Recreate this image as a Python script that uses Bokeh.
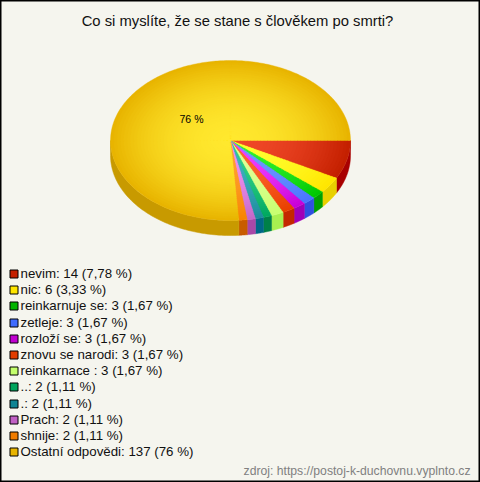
import numpy as np
from bokeh.plotting import figure
from bokeh.models import Range1d
from bokeh.core.properties import value
from bokeh.embed import file_html
from bokeh.resources import INLINE

TITLE = "Co si myslíte, že se stane s člověkem po smrti?"
SOURCE = "zdroj: https://postoj-k-duchovnu.vyplnto.cz"
categories = ["nevim", "nic", "reinkarnuje se", "zetleje", "rozloží se", "znovu se narodi",
              "reinkarnace ", "..", ".", "Prach", "shnije", "Ostatní odpovědi"]
counts = [14, 6, 3, 3, 3, 3, 3, 2, 2, 2, 2, 137]
percents = ["7,78", "3,33", "1,67", "1,67", "1,67", "1,67", "1,67", "1,11", "1,11", "1,11", "1,11", "76"]
swatch_colors = ["#c42000", "#ffe600", "#00b400", "#3f6cff", "#c000d0", "#e23c00",
                 "#c4ff6c", "#00a45c", "#108494", "#c060c4", "#f07c00", "#e8b400"]
rim_colors = ["#c42000", "#ffe600", "#00c800", "#4a74ff", "#c800d8", "#e84000",
              "#c8ff70", "#00a860", "#1c8c9c", "#c468c8", "#f88400", "#e8b400"]
center_colors = ["#f04828", "#ffff30", "#30f030", "#7098ff", "#f040ff", "#ff6430",
                 "#e0ff98", "#30d088", "#40b0c0", "#f090f0", "#ffa030", "#ffe82e"]
side_colors = ["#a80000", "#e8d000", "#00a000", "#3050e0", "#a000b8", "#c42800",
               "#a8f050", "#008048", "#006888", "#a848a8", "#c85c00", "#c89a00"]

W, H = 480, 482
CX, CY, RX, RY, DEPTH = 230, 140, 120, 80, 15
BG = "#f5f5ee"

p = figure(width=W, height=H, output_backend="svg", toolbar_location=None,
           x_range=Range1d(0, W), y_range=Range1d(H, 0), min_border=0,
           background_fill_color=BG, border_fill_color=BG)
p.styles = {"position": "absolute", "left": "0px", "top": "0px"}
p.axis.visible = False
p.grid.visible = False
p.outline_line_color = "#000000"
p.outline_line_width = 2


def mix(a, b, t):
    ca = [int(a[i:i + 2], 16) for i in (1, 3, 5)]
    cb = [int(b[i:i + 2], 16) for i in (1, 3, 5)]
    return "#%02x%02x%02x" % tuple(round(x + (y - x) * t) for x, y in zip(ca, cb))


total = sum(counts)
edges = np.cumsum([0] + counts) / total * 2 * np.pi

# side wall: only the front half of the pie shows
for i in range(len(counts)):
    a0, a1 = edges[i], min(edges[i + 1], np.pi)
    if a0 >= a1:
        continue
    t = np.linspace(a0, a1, 80)
    xs = CX + RX * np.cos(t)
    ys = CY + RY * np.sin(t)
    p.patch(np.r_[xs, xs[::-1]], np.r_[ys, ys[::-1] + DEPTH],
            fill_color=side_colors[i], line_color=side_colors[i], line_width=0.5)

# top face: radial shading made of nested slices
RINGS = 36
for k in range(RINGS):
    f = 1 - k / RINGS
    xss, yss, cols = [], [], []
    for i in range(len(counts)):
        t = np.linspace(edges[i], edges[i + 1], max(6, int((edges[i + 1] - edges[i]) * 60)))
        xss.append(np.r_[CX, CX + RX * f * np.cos(t)])
        yss.append(np.r_[CY, CY + RY * f * np.sin(t)])
        cols.append(mix(center_colors[i], rim_colors[i], f ** 2))
    p.patches(xss, yss, fill_color=cols, line_color=cols, line_width=0.4)

p.text([191], [118], text=["76 %"],
       text_font=value("Liberation Sans"), text_font_size="10.5px", text_color="#000000",
       text_align="center", text_baseline="middle")

p.text([237], [20], text=[TITLE], text_font=value("Liberation Sans"), text_font_size="14.8px",
       text_color="#111111", text_align="center", text_baseline="middle")

n = len(categories)
rows = 273 + 16.2 * np.arange(n)
p.rect(np.full(n, 13.5), np.round(rows) + 0.5, width=8, height=8, fill_color=swatch_colors,
       line_color="#000000", line_width=1, line_join="miter")
labels = [f"{c}: {v} ({s} %)" for c, v, s in zip(categories, counts, percents)]
p.text(np.full(n, 20), rows, text=labels, text_font=value("Liberation Sans"), text_font_size="13.3px",
       text_color="#111111", text_align="left", text_baseline="middle")

p.text([470], [470], text=[SOURCE], text_font=value("Liberation Sans"), text_font_size="12.2px",
       text_color="#808080", text_align="right", text_baseline="middle")

open("out.html", "w").write(file_html(p, INLINE))
